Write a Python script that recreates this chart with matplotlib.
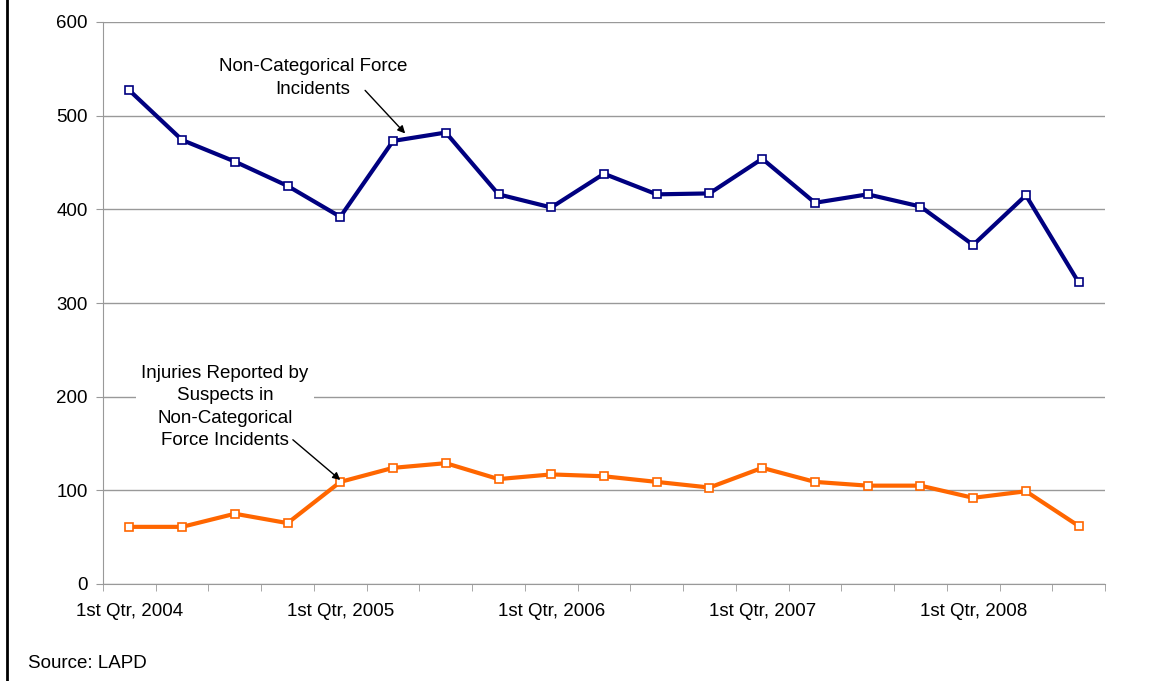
import matplotlib.pyplot as plt
import numpy as np
from matplotlib.lines import Line2D

plt.rcParams['font.family'] = ['Liberation Sans', 'DejaVu Sans']

quarters = ['1st Qtr, 2004', '2nd Qtr, 2004', '3rd Qtr, 2004', '4th Qtr, 2004',
            '1st Qtr, 2005', '2nd Qtr, 2005', '3rd Qtr, 2005', '4th Qtr, 2005',
            '1st Qtr, 2006', '2nd Qtr, 2006', '3rd Qtr, 2006', '4th Qtr, 2006',
            '1st Qtr, 2007', '2nd Qtr, 2007', '3rd Qtr, 2007', '4th Qtr, 2007',
            '1st Qtr, 2008', '2nd Qtr, 2008', '3rd Qtr, 2008']
force_incidents = [527, 474, 451, 425, 392, 473, 482, 416, 402, 438,
                   416, 417, 454, 407, 416, 403, 362, 415, 322]
suspect_injuries = [61, 61, 75, 65, 109, 124, 129, 112, 117, 115,
                    109, 103, 124, 109, 105, 105, 92, 99, 62]

W, H = 1154, 681
fig = plt.figure(figsize=(W / 100, H / 100), dpi=100)
ax = fig.add_axes([103 / W, (H - 584) / H, (1105 - 103) / W, (584 - 22) / H])

x = np.arange(len(quarters))
ax.plot(x, force_incidents, color='#000080', lw=3, marker='s', ms=5.5,
        mfc='white', mec='#000080', mew=1.2, zorder=3)
ax.plot(x, suspect_injuries, color='#FF6600', lw=3, marker='s', ms=5.5,
        mfc='white', mec='#FF6600', mew=1.2, zorder=3)

ax.set_xlim(-0.5, len(quarters) - 0.5)
ax.set_ylim(0, 600)
ax.set_yticks(range(0, 601, 100))
ax.yaxis.grid(True, color='#999999', lw=1)
ax.set_axisbelow(True)

# labels every 4th quarter, tick marks on category boundaries
ax.set_xticks(x[::4])
ax.set_xticklabels([quarters[i] for i in x[::4]])
ax.set_xticks(np.arange(-0.5, len(quarters), 1), minor=True)
ax.tick_params(axis='x', which='major', length=0, pad=14, labelsize=13.5)
ax.tick_params(axis='x', which='minor', length=5, color='#999999')
ax.tick_params(axis='y', length=5, color='#999999', pad=6, labelsize=13.5)

for s in ['top', 'right']:
    ax.spines[s].set_visible(False)
for s in ['left', 'bottom']:
    ax.spines[s].set_color('#999999')

arrow = dict(arrowstyle='-|>', color='black', lw=1, mutation_scale=11,
             shrinkA=0, shrinkB=0)

ax.text(3.48, 540, 'Non-Categorical Force\nIncidents', ha='center', va='center',
        fontsize=13.5, linespacing=1.45)
ax.annotate('', xy=(5.23, 481), xytext=(4.47, 527), arrowprops=arrow)

ax.text(1.81, 189, 'Injuries Reported by\nSuspects in\nNon-Categorical\nForce Incidents',
        ha='center', va='center', fontsize=13.5, linespacing=1.42,
        bbox=dict(boxstyle='square,pad=0.3', fc='white', ec='none'))
ax.annotate('', xy=(4.0, 111), xytext=(3.1, 154), arrowprops=arrow)

fig.text(28 / W, 1 - 663 / H, 'Source: LAPD', fontsize=13.5, va='center')
fig.add_artist(Line2D([7 / W, 7 / W], [0, 1], color='black', lw=2,
                      transform=fig.transFigure))

fig.savefig('out.png', dpi=100)
